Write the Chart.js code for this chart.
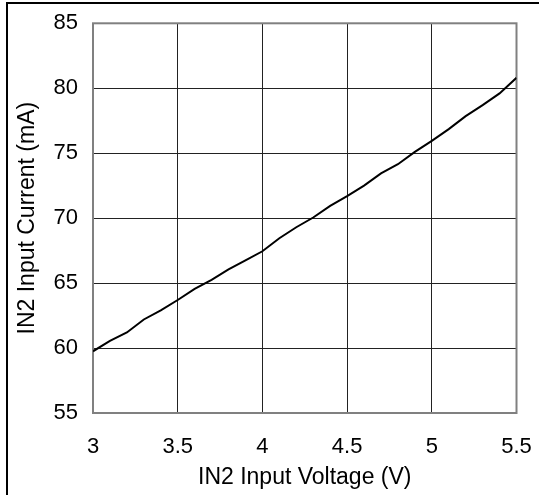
<!DOCTYPE html>
<html>
<head>
<meta charset="utf-8">
<script src="https://cdn.jsdelivr.net/npm/chart.js@4"></script>
<style>
  html, body { margin: 0; padding: 0; background: #fff; overflow: hidden; width: 539px; height: 495px; }
  #frame { position: absolute; left: 6px; top: 2px; width: 700px; height: 700px; border-left: 2px solid #000; border-top: 2px solid #000; pointer-events: none; }
  canvas { position: absolute; left: 0; top: 0; }
</style>
</head>
<body>
<canvas id="c" width="539" height="495"></canvas>
<div id="frame"></div>
<script>
const voltage = [3.0, 3.1, 3.2, 3.3, 3.4, 3.5, 3.6, 3.7, 3.8, 3.9, 4.0, 4.1, 4.2, 4.3, 4.4, 4.5, 4.6, 4.7, 4.8, 4.9, 5.0, 5.1, 5.2, 5.3, 5.4, 5.5];
const current = [59.75, 60.55, 61.2, 62.2, 62.9, 63.7, 64.55, 65.25, 66.05, 66.75, 67.45, 68.45, 69.3, 70.05, 70.95, 71.7, 72.5, 73.45, 74.15, 75.1, 75.95, 76.85, 77.85, 78.7, 79.6, 80.8];
const xTitle = 'IN2 Input Voltage (V)';
const yTitle = 'IN2 Input Current (mA)';
const xRange = [3, 5.5, 0.5];
const yRange = [55, 85, 5];

const points = voltage.map((v, i) => ({ x: v, y: current[i] }));
const FONT = 'Liberation Sans, Arial, sans-serif';

const framePlugin = {
  id: 'frame',
  beforeDatasetsDraw(chart) {
    const a = chart.chartArea;
    const ctx = chart.ctx;
    ctx.save();
    ctx.strokeStyle = '#808080';
    ctx.lineWidth = 2;
    ctx.strokeRect(a.left, a.top, a.right - a.left, a.bottom - a.top);
    ctx.restore();
  }
};

new Chart(document.getElementById('c'), {
  type: 'line',
  data: {
    datasets: [{
      data: points,
      borderColor: '#000',
      borderWidth: 2,
      pointRadius: 0,
      tension: 0,
      fill: false
    }]
  },
  plugins: [framePlugin],
  options: {
    responsive: false,
    animation: false,
    devicePixelRatio: 1,
    layout: { padding: { left: 0, right: 22.5, top: 23.3, bottom: 0 } },
    plugins: { legend: { display: false }, tooltip: { enabled: false } },
    scales: {
      x: {
        type: 'linear',
        min: xRange[0], max: xRange[1],
        afterFit(s) { s.height = 82; s.paddingLeft = 0; s.paddingRight = 0; },
        ticks: { stepSize: xRange[2], color: '#000', padding: 21, font: { family: FONT, size: 22 }, maxRotation: 0, callback: v => String(v) },
        grid: { color: '#222', lineWidth: 1, drawTicks: false },
        border: { display: false },
        title: { display: true, text: xTitle, color: '#000', font: { family: FONT, size: 23 }, padding: { top: 0, bottom: 4 } }
      },
      y: {
        type: 'linear',
        min: yRange[0], max: yRange[1],
        afterFit(s) { s.width = 93; s.paddingTop = 0; s.paddingBottom = 0; },
        ticks: { stepSize: yRange[2], color: '#000', padding: 15, font: { family: FONT, size: 22 }, callback: v => String(v) },
        grid: { color: '#222', lineWidth: 1, drawTicks: false },
        border: { display: false },
        title: { display: true, text: yTitle, color: '#000', font: { family: FONT, size: 23 }, padding: { top: 14, bottom: 0 } }
      }
    }
  }
});
</script>
</body>
</html>
